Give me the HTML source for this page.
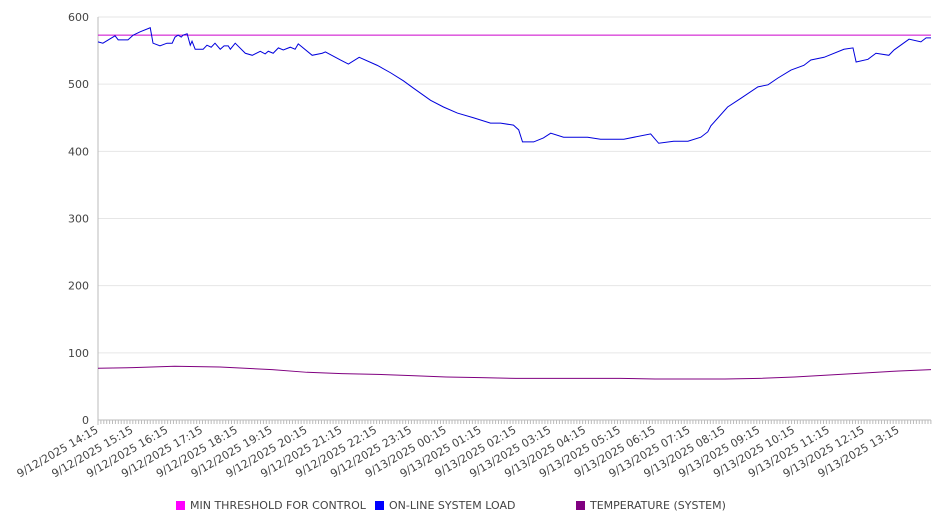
<!DOCTYPE html>
<html><head><meta charset="utf-8"><style>
body{margin:0;background:#fff;}
svg{display:block;font-family:"DejaVu Sans","Liberation Sans",sans-serif;}
</style></head><body>
<svg id="chart" width="946" height="526"></svg>
<script>
const xLabels=["9/12/2025 14:15","9/12/2025 15:15","9/12/2025 16:15","9/12/2025 17:15","9/12/2025 18:15","9/12/2025 19:15","9/12/2025 20:15","9/12/2025 21:15","9/12/2025 22:15","9/12/2025 23:15","9/13/2025 00:15","9/13/2025 01:15","9/13/2025 02:15","9/13/2025 03:15","9/13/2025 04:15","9/13/2025 05:15","9/13/2025 06:15","9/13/2025 07:15","9/13/2025 08:15","9/13/2025 09:15","9/13/2025 10:15","9/13/2025 11:15","9/13/2025 12:15","9/13/2025 13:15"];
const yTicks=[0,100,200,300,400,500,600];
const loadHours=[0,.14,.49,.58,.86,1.01,1.21,1.5,1.58,1.78,1.98,2.13,2.21,2.3,2.39,2.44,2.56,2.65,2.7,2.79,3.02,3.13,3.25,3.36,3.51,3.62,3.74,3.8,3.94,4.23,4.43,4.66,4.8,4.89,5.03,5.18,5.32,5.52,5.66,5.75,6.15,6.44,6.53,6.96,7.19,7.5,8.02,8.4,8.77,9.06,9.55,9.92,10.32,10.78,11.27,11.56,11.93,12.08,12.19,12.51,12.79,13,13.37,14.06,14.43,15.1,15.87,16.1,16.53,16.94,17.31,17.51,17.6,18.08,18.46,18.95,19.24,19.52,19.9,20.27,20.47,20.85,21.42,21.68,21.77,22.11,22.34,22.71,22.86,23.29,23.63,23.78,23.92];
const loadValues=[563,561,572,566,566,573,578,584,561,557,561,561,570,573,570,573,575,558,564,552,552,558,555,561,552,557,557,552,561,546,543,549,545,549,546,554,551,555,552,560,543,546,548,536,530,540,528,517,505,494,476,466,457,450,442,442,439,432,414,414,420,427,421,421,418,418,426,412,415,415,421,429,438,466,479,496,499,509,521,528,536,540,552,554,533,537,546,543,551,567,563,569,569];
const thresholdHours=[0,23.92];
const thresholdValues=[573,573];
const tempHours=[0,1,2.2,3.5,5,6,7,8,9,10,11,12,14,15,16,18,19,20,21,22,23,23.92];
const tempValues=[77,78,80,79,75,71,69,68,66,64,63,62,62,62,61,61,62,64,67,70,73,75];

const NS="http://www.w3.org/2000/svg";
const svg=document.getElementById('chart');
const X0=98,X1=931,H1=23.92,Y0=420,YT=17;
const xs=h=>X0+h*(X1-X0)/H1;
const ys=v=>Y0-v*(Y0-YT)/600;
function mk(t,a){const e=document.createElementNS(NS,t);for(const k in a)e.setAttribute(k,a[k]);svg.appendChild(e);return e;}
yTicks.forEach(v=>{
  const g=mk('line',{x1:X0,x2:X1,y1:ys(v),y2:ys(v),stroke:v===0?'#bbb':'#e6e6e6','stroke-width':1});
  
  
  const t=mk('text',{x:89,y:ys(v)+4,'text-anchor':'end','font-size':11,fill:'#444'});
  t.textContent=v;
  
  
});
const ax=mk('line',{x1:X0,x2:X0,y1:YT,y2:Y0+5,stroke:'#bbb'});


for(let m=0;m<=H1*60;m+=5){
  const tk=mk('line',{x1:xs(m/60),x2:xs(m/60),y1:Y0,y2:Y0+4,stroke:'#bbb'});
  
  
}
xLabels.forEach((s,i)=>{
  const x=xs(i);
  const t=mk('text',{x:x+1,y:Y0+12,'text-anchor':'end','font-size':11,fill:'#444',transform:`rotate(-30 ${x+1} ${Y0+12})`});
  t.textContent=s;
  
  
});
function series(hs,vs,color,name){
  const p=mk('polyline',{points:hs.map((h,i)=>xs(h)+','+ys(vs[i])).join(' '),fill:'none',stroke:color,'stroke-width':1});
  
  
}
series(tempHours,tempValues,'#800080','temperature-line');
series(thresholdHours,thresholdValues,'#cc00cc','threshold-line');
series(loadHours,loadValues,'#0000dd','load-line');
const leg=[['#ff00ff','MIN THRESHOLD FOR CONTROL',176],['#0000ff','ON-LINE SYSTEM LOAD',375],['#800080','TEMPERATURE (SYSTEM)',576]];
leg.forEach(l=>{
  const r=mk('rect',{x:l[2],y:501,width:9,height:9,fill:l[0]});
  
  
  const t=mk('text',{x:l[2]+14,y:509,'font-size':11,fill:'#444'});
  t.textContent=l[1];
  
  
});
</script>
</body></html>
